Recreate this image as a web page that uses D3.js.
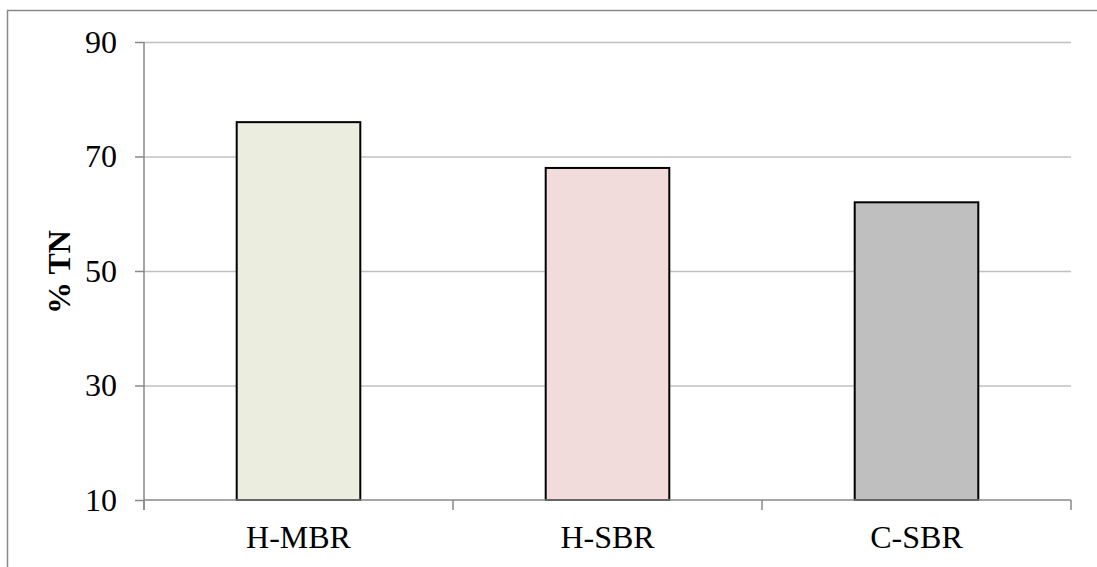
<!DOCTYPE html>
<html>
<head>
<meta charset="utf-8">
<script src="https://cdn.jsdelivr.net/npm/d3@7"></script>
<style>
  body { margin: 0; background: #fff; }
  svg { display: block; font-family: "Liberation Serif", "Times New Roman", serif; }
</style>
</head>
<body>
<svg id="chart" width="1097" height="567"></svg>
<script>
// データ
const categories = ["H-MBR", "H-SBR", "C-SBR"];
const values = [76, 68, 62];
const colors = ["#ebeedf", "#f2dcdb", "#bfbfbf"];
const yTicks = [10, 30, 50, 70, 90];

const svg = d3.select("#chart");
const margin = { top: 42, right: 26, bottom: 67, left: 144 };
const width = +svg.attr("width"), height = +svg.attr("height");
const chartWidth = 1071 - margin.left;
const chartHeight = 500 - margin.top;

// 外枠
svg.append("rect")
    .attr("x", 7.5).attr("y", 10.5)
    .attr("width", 1200).attr("height", 700)
    .attr("fill", "none").attr("stroke", "#888").attr("stroke-width", 1.5);

const g = svg.append("g").attr("transform", `translate(${margin.left},${margin.top})`);

const x = d3.scaleBand().domain(categories).range([0, chartWidth]).paddingInner(0.6).paddingOuter(0.3);
const y = d3.scaleLinear().domain([10, 90]).range([chartHeight, 0]);

// グリッド線
g.append("g")
    .selectAll("line")
    .data(yTicks.slice(1))
    .join("line")
    .attr("x1", 0).attr("x2", chartWidth)
    .attr("y1", d => y(d) + 0.5).attr("y2", d => y(d) + 0.5)
    .attr("stroke", "#c0c0c0").attr("stroke-width", 1.5);

// 棒
g.selectAll("rect.bar")
    .data(categories)
    .join("rect")
    .attr("class", "bar")
    .attr("x", d => x(d))
    .attr("y", (d, i) => y(values[i]))
    .attr("width", x.bandwidth())
    .attr("height", (d, i) => y(10) - y(values[i]))
    .attr("fill", (d, i) => colors[i])
    .attr("stroke", "#000").attr("stroke-width", 2);

// Y軸
const yAxis = g.append("g")
    .call(d3.axisLeft(y).tickValues(yTicks).tickSize(9).tickPadding(18));
yAxis.select(".domain").attr("stroke", "#888").attr("stroke-width", 1.5).attr("d", `M0,0V${chartHeight + 10}`);
yAxis.selectAll(".tick line").attr("stroke", "#888").attr("stroke-width", 1.5);
yAxis.selectAll(".tick text").attr("font-size", 32).attr("fill", "#000").attr("font-family", "Liberation Serif");

// X軸
const xAxis = g.append("g")
    .attr("transform", `translate(0,${chartHeight})`);
xAxis.append("line")
    .attr("x1", 0).attr("x2", chartWidth)
    .attr("stroke", "#888").attr("stroke-width", 1.5);
xAxis.selectAll("line.tk")
    .data(d3.range(categories.length + 1))
    .join("line")
    .attr("class", "tk")
    .attr("x1", i => i * chartWidth / categories.length)
    .attr("x2", i => i * chartWidth / categories.length)
    .attr("y1", 0).attr("y2", 10)
    .attr("stroke", "#888").attr("stroke-width", 1.5);
xAxis.selectAll("text")
    .data(categories)
    .join("text")
    .attr("x", d => x(d) + x.bandwidth() / 2)
    .attr("y", 48)
    .attr("text-anchor", "middle")
    .attr("font-size", 32)
    .text(d => d);

// ラベル
svg.append("text")
    .attr("transform", "rotate(-90)")
    .attr("x", -272)
    .attr("y", 70)
    .attr("text-anchor", "middle")
    .attr("font-size", 32)
    .attr("font-weight", "bold")
    .text("% TN");
</script>
</body>
</html>
